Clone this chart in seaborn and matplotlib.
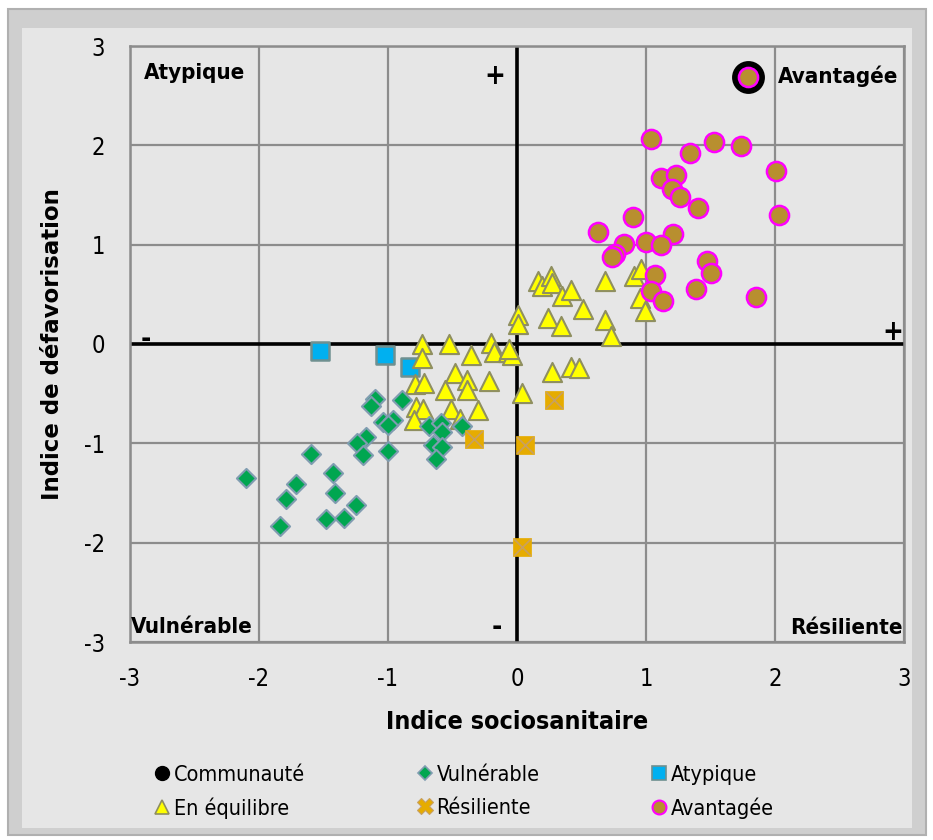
import matplotlib
matplotlib.use("Agg")
import matplotlib.pyplot as plt
from matplotlib.lines import Line2D
from matplotlib.patches import Rectangle
import seaborn as sns
import pandas as pd

# values
communaute_x = [1.79]
communaute_y = [2.69]

vulnerable_x = [-1.10, -1.13, -0.89, -1.04, -0.96, -1.00, -1.17, -1.24, -1.19, -1.00,
                -1.60, -2.10, -1.43, -1.71, -1.41, -1.79, -1.25, -1.48, -1.34, -1.84,
                -0.68, -0.59, -0.58, -0.43, -0.65, -0.58, -0.63]
vulnerable_y = [-0.55, -0.62, -0.56, -0.79, -0.77, -0.82, -0.94, -1.00, -1.12, -1.08,
                -1.11, -1.35, -1.30, -1.41, -1.50, -1.56, -1.62, -1.76, -1.75, -1.83,
                -0.83, -0.80, -0.89, -0.83, -1.02, -1.04, -1.16]

atypique_x = [-1.53, -1.02, -0.83]
atypique_y = [-0.07, -0.11, -0.23]

equilibre_x = [-0.74, -0.53, -0.74, -0.36, -0.20, -0.18, -0.07, -0.04, -0.06, -0.79,
               -0.72, -0.48, -0.39, -0.39, -0.56, -0.22, 0.04, -0.78, -0.73, -0.80,
               -0.51, -0.44, -0.30,
               0.16, 0.19, 0.26, 0.27, 0.35, 0.42, 0.51, 0.24, 0.34, 0.68,
               0.68, 0.73, 0.91, 0.96, 0.95, 0.99, 0.01, 0.01, 0.27, 0.42, 0.48]
equilibre_y = [0.00, 0.00, -0.14, -0.11, 0.01, -0.08, -0.08, -0.11, -0.05, -0.40,
               -0.39, -0.29, -0.36, -0.46, -0.46, -0.37, -0.49, -0.63, -0.65, -0.77,
               -0.65, -0.76, -0.66,
               0.63, 0.58, 0.68, 0.61, 0.48, 0.54, 0.35, 0.26, 0.18, 0.63,
               0.24, 0.08, 0.68, 0.75, 0.46, 0.33, 0.29, 0.20, -0.28, -0.23, -0.24]

resiliente_x = [-0.33, 0.06, 0.29, 0.04]
resiliente_y = [-0.96, -1.02, -0.56, -2.04]

avantagee_x = [1.79, 1.04, 1.53, 1.74, 1.34, 2.01, 1.12, 1.23, 1.20, 1.26, 1.40, 2.03,
               0.90, 0.63, 1.21, 1.00, 0.83, 1.12, 0.76, 0.74, 1.47, 1.50, 1.07, 1.04,
               1.39, 1.13, 1.85]
avantagee_y = [2.69, 2.06, 2.03, 1.99, 1.92, 1.74, 1.67, 1.70, 1.56, 1.48, 1.37, 1.30,
               1.28, 1.13, 1.11, 1.03, 1.01, 1.00, 0.91, 0.88, 0.84, 0.71, 0.69, 0.53,
               0.55, 0.43, 0.47]

ticks = [-3, -2, -1, 0, 1, 2, 3]

BG = '#e6e6e6'

sns.set_style("white")
plt.rcParams['font.family'] = ['DejaVu Sans']
plt.rcParams['font.stretch'] = 'condensed'
plt.rcParams['axes.unicode_minus'] = False
for key in ['text.color', 'axes.labelcolor', 'xtick.color', 'ytick.color']:
    plt.rcParams[key] = 'black'

fig = plt.figure(figsize=(9.33, 8.4), dpi=100)
fig.patch.set_facecolor('white')
# beveled frame around the chart
fig.patches.append(Rectangle((8 / 933, 5 / 840), 918 / 933, 826 / 840, transform=fig.transFigure,
                             facecolor='#cfcfcf', edgecolor='#b0b0b0', lw=1.5, zorder=-10))
fig.patches.append(Rectangle((22 / 933, 12 / 840), 890 / 933, 800 / 840, transform=fig.transFigure,
                             facecolor=BG, edgecolor='none', zorder=-9))

ax = fig.add_axes([130 / 933, 1 - 642 / 840, 774 / 933, 596 / 840])
ax.set_facecolor(BG)


def make_df(xs, ys, name):
    return pd.DataFrame({'x': xs, 'y': ys, 'groupe': name})


df_comm = make_df(communaute_x, communaute_y, 'Communauté')
df_vul = make_df(vulnerable_x, vulnerable_y, 'Vulnérable')
df_aty = make_df(atypique_x, atypique_y, 'Atypique')
df_equ = make_df(equilibre_x, equilibre_y, 'En équilibre')
df_res = make_df(resiliente_x, resiliente_y, 'Résiliente')
df_ava = make_df(avantagee_x, avantagee_y, 'Avantagée')

sns.scatterplot(data=df_comm, x='x', y='y', ax=ax, marker='o', s=560, color='black',
                edgecolor='black', linewidth=0, zorder=3, legend=False)
sns.scatterplot(data=df_aty, x='x', y='y', ax=ax, marker='s', s=150, color='#00b0f0',
                edgecolor='#6f9090', linewidth=1.8, zorder=3, legend=False)
sns.scatterplot(data=df_equ, x='x', y='y', ax=ax, marker='^', s=190, color='#ffff00',
                edgecolor='#8f8f60', linewidth=1.5, zorder=4, legend=False)
sns.scatterplot(data=df_vul, x='x', y='y', ax=ax, marker='D', s=95, color='#00a650',
                edgecolor='#7f9cb0', linewidth=1.5, zorder=5, legend=False)
sns.scatterplot(data=df_res, x='x', y='y', ax=ax, marker='s', s=150, color='#e6ac00',
                edgecolor='#e6ac00', linewidth=0.5, zorder=5, legend=False)
sns.scatterplot(data=df_res, x='x', y='y', ax=ax, marker='x', s=150, color='#c8a060',
                linewidth=1.2, zorder=6, legend=False)
sns.scatterplot(data=df_ava, x='x', y='y', ax=ax, marker='o', s=190, color='#b88f2f',
                edgecolor='#ff00ff', linewidth=1.8, zorder=6, legend=False)

ax.set_xlim(-3, 3)
ax.set_ylim(-3, 3)
ax.set_xticks(ticks)
ax.set_yticks(ticks)
ax.grid(True, color='#8c8c8c', lw=1.6)
ax.set_axisbelow(True)
ax.axhline(0, color='black', lw=2.6, zorder=2)
ax.axvline(0, color='black', lw=2.6, zorder=2)
for sp in ax.spines.values():
    sp.set_color('#8c8c8c')
    sp.set_linewidth(1.8)
ax.tick_params(length=0, labelsize=17, pad=18)

ax.set_xlabel('Indice sociosanitaire', fontsize=18, fontweight='bold', labelpad=14)
ax.set_ylabel('Indice de défavorisation', fontsize=16.5, fontweight='bold',
              fontstretch='normal', labelpad=14)

corner = dict(fontsize=16, fontweight='bold', va='center', zorder=7)
ax.text(-2.50, 2.73, 'Atypique', ha='center', **corner)
ax.text(2.02, 2.70, 'Avantagée', ha='left', **corner)
ax.text(-2.52, -2.85, 'Vulnérable', ha='center', **corner)
ax.text(2.55, -2.86, 'Résiliente', ha='center', **corner)
ax.text(-0.17, 2.70, '+', ha='center', fontsize=20, fontweight='bold', va='center')
ax.text(2.91, 0.12, '+', ha='center', fontsize=20, fontweight='bold', va='center')
ax.text(-2.88, 0.05, '-', ha='center', fontsize=20, fontweight='bold', va='center')
ax.text(-0.16, -2.85, '-', ha='center', fontsize=20, fontweight='bold', va='center')

handles = [
    Line2D([], [], ls='none', marker='o', ms=10, mfc='black', mec='black'),
    Line2D([], [], ls='none', marker='^', ms=10, mfc='#ffff00', mec='#8f8f60', mew=1.2),
    Line2D([], [], ls='none', marker='D', ms=7, mfc='#00a650', mec='#7f9cb0', mew=1.2),
    Line2D([], [], ls='none', marker='X', ms=11, mfc='#e6ac00', mec='#c8a060', mew=0.8),
    Line2D([], [], ls='none', marker='s', ms=10, mfc='#00b0f0', mec='#6f9090', mew=1.2),
    Line2D([], [], ls='none', marker='o', ms=10, mfc='#b88f2f', mec='#ff00ff', mew=1.5),
]
labels = ['Communauté', 'En équilibre', 'Vulnérable', 'Résiliente', 'Atypique', 'Avantagée']
fig.legend(handles, labels, ncol=3, loc='upper left', bbox_to_anchor=(146 / 933, 1 - 756 / 840),
           frameon=False, fontsize=15.5, handlelength=0.7, handletextpad=0.2,
           columnspacing=5.2, labelspacing=0.6, borderaxespad=0)

fig.savefig('out.png', dpi=100, facecolor=fig.get_facecolor())
